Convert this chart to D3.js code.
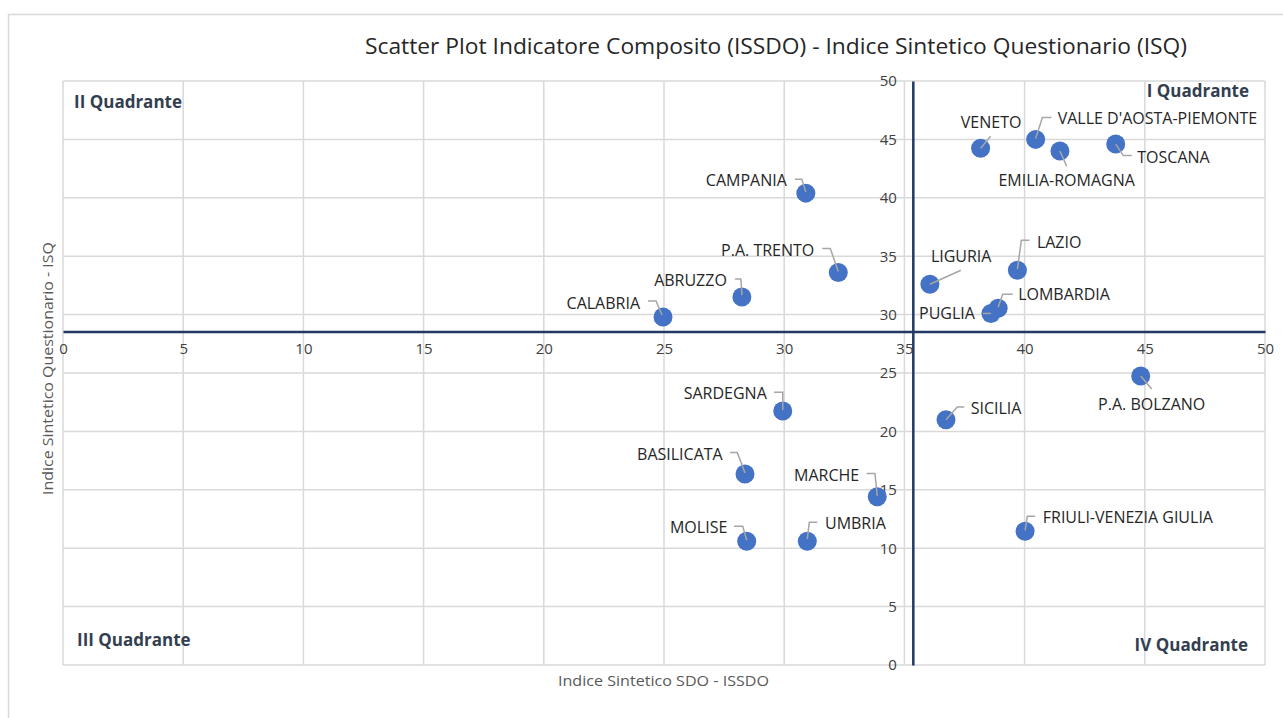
<!DOCTYPE html>
<html>
<head>
<meta charset="utf-8">
<script src="https://cdn.jsdelivr.net/npm/d3@7"></script>
<style>
  body { margin: 0; background: #fff; }
  svg { display: block; font-family: "Open Sans", sans-serif; }
</style>
</head>
<body>
<div id="chart"></div>
<script>
// chart size
var width = 1283;
var height = 718;

// regions and values (x = ISSDO, y = ISQ)
var regions = ["CALABRIA", "ABRUZZO", "P.A. TRENTO", "CAMPANIA", "LIGURIA", "LAZIO",
  "LOMBARDIA", "PUGLIA", "VENETO", "VALLE D'AOSTA-PIEMONTE", "EMILIA-ROMAGNA", "TOSCANA",
  "P.A. BOLZANO", "SICILIA", "FRIULI-VENEZIA GIULIA", "SARDEGNA", "BASILICATA", "MARCHE",
  "MOLISE", "UMBRIA"];
var issdo = [24.96, 28.24, 32.25, 30.9, 36.06, 39.7, 38.9, 38.6, 38.17, 40.46, 41.47, 43.79,
  44.83, 36.73, 40.02, 29.94, 28.37, 33.87, 28.44, 30.96];
var isq = [29.8, 31.5, 33.6, 40.4, 32.6, 33.8, 30.55, 30.1, 44.25, 45.0, 44.0, 44.6,
  24.75, 21.0, 11.45, 21.75, 16.35, 14.4, 10.6, 10.6];

// where the axes cross (means)
var crossX = 35.35;
var crossY = 28.55;

var xTicks = [0, 5, 10, 15, 20, 25, 30, 35, 40, 45, 50];
var yTicks = [0, 5, 10, 15, 20, 25, 30, 35, 40, 45, 50];

var quadrants = ["I Quadrante", "II Quadrante", "III Quadrante", "IV Quadrante"];

// label placement: text offset from the point, anchor, leader polyline (offsets)
var labelLayout = {
  "CALABRIA": [-23, -14, "end", [[-15, -16], [-7, -16], [-1, -2]]],
  "ABRUZZO": [-15, -17, "end", [[-7, -18], [-1, -18], [0, -2]]],
  "P.A. TRENTO": [-24, -22.5, "end", [[-16, -24], [-8, -24], [0, -1]]],
  "CAMPANIA": [-19, -13, "end", [[-11, -14], [-4, -14], [0, -1]]],
  "LIGURIA": [1, -28, "start", [[31, -14], [0, 0]]],
  "LAZIO": [19.5, -28, "start", [[12, -30], [4, -30], [0, -1]]],
  "LOMBARDIA": [20, -13.5, "start", [[14.5, -14], [4.5, -14], [0, -1]]],
  "PUGLIA": [-16, 0, "end", [[-8, 0], [0, 0]]],
  "VENETO": [10.5, -25.5, "middle", [[10, -12], [0, 0]]],
  "VALLE D'AOSTA-PIEMONTE": [22, -21, "start", [[15.7, -22], [6.7, -22], [0, -1]]],
  "EMILIA-ROMAGNA": [6.7, 29, "middle", [[0, 0], [6.7, 15]]],
  "TOSCANA": [21.6, 12.8, "start", [[0, 0], [7.6, 11.5], [16, 11.5]]],
  "P.A. BOLZANO": [11, 28, "middle", [[0, 0], [11, 13]]],
  "SICILIA": [24.7, -11.7, "start", [[18.3, -12.7], [11.3, -12.7], [0, 0]]],
  "FRIULI-VENEZIA GIULIA": [17.7, -14, "start", [[10, -15], [2.3, -15], [0, -1]]],
  "SARDEGNA": [-16, -17.7, "end", [[-8.7, -18.7], [0, -18.7], [0, -1]]],
  "BASILICATA": [-22.3, -20, "end", [[-15, -21.6], [-7.7, -21.6], [0, -1]]],
  "MARCHE": [-18, -21.6, "end", [[-10.6, -23.3], [-2.3, -23.3], [0, -1]]],
  "MOLISE": [-19.4, -14.4, "end", [[-12.7, -15], [-4, -15], [0, -1]]],
  "UMBRIA": [17.7, -17.7, "start", [[10, -19], [2, -19], [0, -2]]]
};

var data = regions.map(function (name, i) {
  return { name: name, x: issdo[i], y: isq[i] };
});

var svg = d3.select('#chart')
  .append('svg')
  .attr('width', width)
  .attr('height', height);

// outer chart frame
svg.append('rect')
  .attr('x', 8.5).attr('y', 14.5)
  .attr('width', width).attr('height', height)
  .attr('fill', 'none')
  .attr('stroke', '#d9d9d9')
  .attr('stroke-width', 1.5);

var x = d3.scaleLinear().domain([0, 50]).range([63, 1265]);
var y = d3.scaleLinear().domain([0, 50]).range([665, 81]);

// gridlines
svg.append('g')
  .selectAll('line')
  .data(xTicks)
  .enter()
  .append('line')
  .attr('x1', (d) => x(d)).attr('x2', (d) => x(d))
  .attr('y1', y(0)).attr('y2', y(50))
  .attr('stroke', '#d9d9d9')
  .attr('stroke-width', 1.5);

svg.append('g')
  .selectAll('line')
  .data(yTicks)
  .enter()
  .append('line')
  .attr('y1', (d) => y(d)).attr('y2', (d) => y(d))
  .attr('x1', x(0)).attr('x2', x(50))
  .attr('stroke', '#d9d9d9')
  .attr('stroke-width', 1.5);

// x axis crossing at crossY
var xAxis = svg.append('g')
  .attr('transform', 'translate(0,' + y(crossY) + ')')
  .call(d3.axisBottom(x).tickValues(xTicks).tickSize(0).tickPadding(12));
xAxis.select('.domain').attr('stroke', '#1f3864').attr('stroke-width', 2.5);
xAxis.selectAll('text')
  .attr('font-family', '"Open Sans", sans-serif')
  .attr('font-size', 15)
  .attr('fill', '#404040');

// y axis crossing at crossX
var yAxis = svg.append('g')
  .attr('transform', 'translate(' + x(crossX) + ',0)')
  .call(d3.axisLeft(y).tickValues(yTicks).tickSize(0).tickPadding(16));
yAxis.select('.domain').attr('stroke', '#1f3864').attr('stroke-width', 2.5);
yAxis.selectAll('text')
  .attr('font-family', '"Open Sans", sans-serif')
  .attr('font-size', 15)
  .attr('fill', '#404040');

// points
svg.append('g')
  .selectAll('circle')
  .data(data)
  .enter()
  .append('circle')
  .attr('cx', (d) => x(d.x))
  .attr('cy', (d) => y(d.y))
  .attr('r', 9.5)
  .attr('fill', '#4472c4');

// leader lines
var line = d3.line();
svg.append('g')
  .selectAll('path')
  .data(data)
  .enter()
  .append('path')
  .attr('d', function (d) {
    var px = x(d.x), py = y(d.y);
    return line(labelLayout[d.name][3].map((p) => [px + p[0], py + p[1]]));
  })
  .attr('fill', 'none')
  .attr('stroke', '#a6a6a6')
  .attr('stroke-width', 1.5);

// data labels
svg.append('g')
  .selectAll('text')
  .data(data)
  .enter()
  .append('text')
  .attr('x', (d) => x(d.x) + labelLayout[d.name][0])
  .attr('y', (d) => y(d.y) + labelLayout[d.name][1])
  .attr('dy', '0.36em')
  .attr('text-anchor', (d) => labelLayout[d.name][2])
  .attr('font-size', 16)
  .attr('fill', '#262626')
  .text((d) => d.name);

// quadrant labels
var quadPos = [[1249, 91, 'end'], [74, 102, 'start'], [77, 640, 'start'], [1248, 645, 'end']];
svg.append('g')
  .selectAll('text')
  .data(quadrants)
  .enter()
  .append('text')
  .attr('x', (d, i) => quadPos[i][0])
  .attr('y', (d, i) => quadPos[i][1])
  .attr('dy', '0.36em')
  .attr('text-anchor', (d, i) => quadPos[i][2])
  .attr('font-size', 17)
  .attr('font-weight', 'bold')
  .attr('fill', '#333f50')
  .text((d) => d);

// title
svg.append('text')
  .attr('x', 365)
  .attr('y', 46)
  .attr('dy', '0.36em')
  .attr('font-size', 21)
  .attr('fill', '#262626')
  .attr('textLength', 822)
  .attr('lengthAdjust', 'spacingAndGlyphs')
  .text('Scatter Plot Indicatore Composito (ISSDO) - Indice Sintetico Questionario (ISQ)');

// axis titles
svg.append('text')
  .attr('x', 558)
  .attr('y', 681)
  .attr('dy', '0.36em')
  .attr('font-size', 15)
  .attr('fill', '#595959')
  .attr('textLength', 211)
  .attr('lengthAdjust', 'spacingAndGlyphs')
  .text('Indice Sintetico SDO - ISSDO');

svg.append('text')
  .attr('transform', 'translate(48,' + 495 + ') rotate(-90)')
  .attr('dy', '0.36em')
  .attr('font-size', 15)
  .attr('fill', '#595959')
  .attr('textLength', 253)
  .attr('lengthAdjust', 'spacingAndGlyphs')
  .text('Indice Sintetico Questionario - ISQ');
</script>
</body>
</html>
